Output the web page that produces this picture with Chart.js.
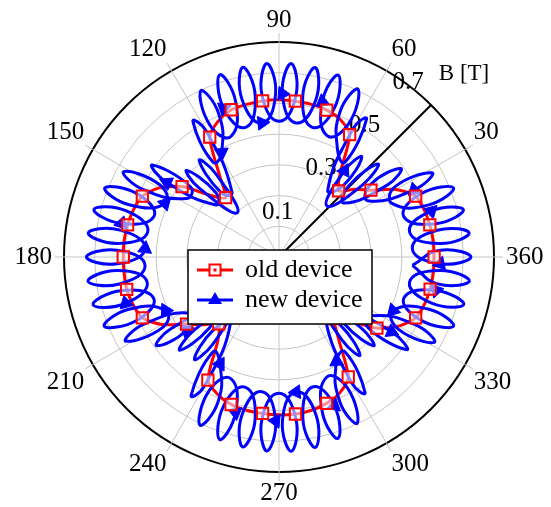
<!DOCTYPE html>
<html>
<head>
<meta charset="utf-8">
<script src="https://cdn.jsdelivr.net/npm/chart.js@4.4.1/dist/chart.umd.min.js"></script>
<style>
  html, body { margin: 0; padding: 0; background: #fff; }
  #wrap { width: 551px; height: 507px; }
</style>
</head>
<body>
<div id="wrap"><canvas id="chart" width="551" height="507"></canvas></div>
<script>
// Angle labels, listed clockwise starting from the top of the dial
const angleLabels = ['90', '60', '30', '360', '330', '300', '270', '240', '210', '180', '150', '120'];
// Radial axis (B in tesla)
const radialTicks = [0.1, 0.3, 0.5, 0.7];
const radialMax = 0.7;
const radialAxisAngle = 45;   // direction of the B axis, degrees
const radialAxisTitle = 'B [T]';

// old device: field magnitude vs angle (degrees)
const oldAngles = [0, 6, 12, 18, 24, 30, 36, 42, 48, 54,
  60, 66, 72, 78, 84, 90, 96, 102, 108, 114,
  120, 126, 132, 138, 144, 150, 156, 162, 168, 174,
  180, 186, 192, 198, 204, 210, 216, 222, 228, 234,
  240, 246, 252, 258, 264, 270, 276, 282, 288, 294,
  300, 306, 312, 318, 324, 330, 336, 342, 348, 354, 360];
const oldB = [0.505, 0.505, 0.502, 0.497, 0.487, 0.44, 0.37, 0.33, 0.29, 0.34,
  0.46, 0.49, 0.503, 0.508, 0.51, 0.512, 0.511, 0.508, 0.504, 0.485,
  0.451, 0.33, 0.26, 0.30, 0.39, 0.45, 0.487, 0.498, 0.504, 0.507,
  0.507, 0.507, 0.507, 0.50, 0.487, 0.44, 0.372, 0.33, 0.293, 0.34,
  0.463, 0.49, 0.505, 0.51, 0.512, 0.514, 0.514, 0.51, 0.501, 0.485,
  0.451, 0.33, 0.27, 0.31, 0.394, 0.45, 0.487, 0.498, 0.503, 0.505, 0.505];

// new device: the rippled field, one group per ripple
// (inner turn, rising flank, outer turn, falling flank)
const newAngles = [
  -3.6, 2.4, 0, -2.4,       3.6, 9.6, 7.2, 4.8,        10.8, 16.8, 14.4, 12,
  18, 24, 21.6, 19.2,       25.2, 31.2, 28.8, 26.4,    32.4, 38.4, 36, 33.6,
  39.6, 45.6, 43.2, 40.8,   46.8, 52.8, 50.4, 48,      54, 60, 57.6, 55.2,
  61.2, 67.2, 64.8, 62.4,   68.4, 74.4, 72, 69.6,      75.6, 81.6, 79.2, 76.8,
  82.8, 88.8, 86.4, 84,     90, 96, 93.6, 91.2,        97.2, 103.2, 100.8, 98.4,
  104.4, 110.4, 108, 105.6, 111.6, 117.6, 115.2, 112.8, 118.8, 124.8, 122.4, 120,
  126, 132, 129.6, 127.2,   133.2, 139.2, 136.8, 134.4, 140.4, 146.4, 144, 141.6,
  147.6, 153.6, 151.2, 148.8, 154.8, 160.8, 158.4, 156, 162, 168, 165.6, 163.2,
  169.2, 175.2, 172.8, 170.4, 176.4, 182.4, 180, 177.6, 183.6, 189.6, 187.2, 184.8,
  190.8, 196.8, 194.4, 192, 198, 204, 201.6, 199.2,    205.2, 211.2, 208.8, 206.4,
  212.4, 218.4, 216, 213.6, 219.6, 225.6, 223.2, 220.8, 226.8, 232.8, 230.4, 228,
  234, 240, 237.6, 235.2,   241.2, 247.2, 244.8, 242.4, 248.4, 254.4, 252, 249.6,
  255.6, 261.6, 259.2, 256.8, 262.8, 268.8, 266.4, 264, 270, 276, 273.6, 271.2,
  277.2, 283.2, 280.8, 278.4, 284.4, 290.4, 288, 285.6, 291.6, 297.6, 295.2, 292.8,
  298.8, 304.8, 302.4, 300, 306, 312, 309.6, 307.2,    313.2, 319.2, 316.8, 314.4,
  320.4, 326.4, 324, 321.6, 327.6, 333.6, 331.2, 328.8, 334.8, 340.8, 338.4, 336,
  342, 348, 345.6, 343.2,   349.2, 355.2, 352.8, 350.4,
  356.4];
const newB = [
  0.435, 0.525, 0.625, 0.525,  0.435, 0.523, 0.624, 0.525,  0.433, 0.518, 0.62, 0.522,
  0.427, 0.504, 0.611, 0.516,  0.408, 0.441, 0.569, 0.491,  0.342, 0.382, 0.49, 0.423,
  0.276, 0.323, 0.442, 0.361,  0.228, 0.353, 0.423, 0.313,  0.27, 0.482, 0.532, 0.376,
  0.396, 0.513, 0.604, 0.49,   0.425, 0.525, 0.623, 0.518,  0.436, 0.529, 0.628, 0.527,
  0.44, 0.532, 0.631, 0.53,    0.442, 0.531, 0.631, 0.532,  0.44, 0.527, 0.629, 0.53,
  0.436, 0.517, 0.624, 0.526,  0.423, 0.482, 0.598, 0.51,   0.388, 0.376, 0.523, 0.473,
  0.26, 0.283, 0.408, 0.341,   0.198, 0.344, 0.412, 0.293,  0.266, 0.438, 0.51, 0.368,
  0.356, 0.495, 0.577, 0.454,  0.41, 0.517, 0.61, 0.505,    0.428, 0.524, 0.622, 0.519,
  0.435, 0.527, 0.626, 0.525,  0.437, 0.527, 0.627, 0.527,  0.437, 0.527, 0.627, 0.527,
  0.437, 0.521, 0.625, 0.527,  0.43, 0.504, 0.612, 0.518,   0.408, 0.441, 0.569, 0.491,
  0.342, 0.384, 0.492, 0.424,  0.276, 0.325, 0.443, 0.361,  0.23, 0.354, 0.432, 0.316,
  0.27, 0.485, 0.534, 0.376,   0.398, 0.514, 0.605, 0.492,  0.426, 0.526, 0.625, 0.518,
  0.438, 0.531, 0.63, 0.529,   0.442, 0.534, 0.633, 0.532,  0.444, 0.534, 0.634, 0.534,
  0.443, 0.528, 0.631, 0.533,  0.437, 0.517, 0.621, 0.526,  0.421, 0.482, 0.598, 0.51,
  0.388, 0.376, 0.523, 0.473,  0.26, 0.293, 0.414, 0.342,   0.208, 0.353, 0.422, 0.303,
  0.272, 0.44, 0.514, 0.37,    0.357, 0.495, 0.577, 0.455,  0.41, 0.517, 0.611, 0.505,
  0.428, 0.523, 0.621, 0.519,  0.433, 0.525, 0.625, 0.524,
  0.435];
// samples of the new-device curve that carry a marker
const newMarked = [3, 9, 19, 29, 41, 49, 56, 61, 68, 81, 88, 93, 100, 109, 116,
  121, 136, 141, 149, 156, 161, 168, 181, 188, 193];

const RED = '#ff0000';
const BLUE = '#0000ff';
const GRID = '#c4c4c4';
const SERIF = '"Liberation Serif", "Times New Roman", serif';

const toXY = (angles, values) => angles.map((a, i) => {
  const t = a * Math.PI / 180;
  return { x: values[i] * Math.cos(t), y: values[i] * Math.sin(t) };
});
const oldPoints = toXY(oldAngles, oldB);
const newPoints = toXY(newAngles, newB);

// arrow-like orientation of a marker: direction of travel into the point
function travelRotation(ctx) {
  const pts = ctx.dataset.data;
  const i = ctx.dataIndex;
  const a = pts[Math.max(i - 1, 0)];
  const b = i > 0 ? pts[i] : pts[1];
  return Math.atan2(b.x - a.x, b.y - a.y) * 180 / Math.PI;
}

const polarFrame = {
  id: 'polarFrame',
  // the cartesian axes carrying the curves are pinned onto the polar dial
  afterLayout(chart) {
    const r = chart.scales.r, sx = chart.scales.x, sy = chart.scales.y;
    const k = radialMax / r.drawingArea;
    sx.min = (sx.left - r.xCenter) * k;
    sx.max = (sx.right - r.xCenter) * k;
    sx.configure();
    sy.min = (r.yCenter - sy.bottom) * k;
    sy.max = (r.yCenter - sy.top) * k;
    sy.configure();
  },
  beforeDatasetsDraw(chart) {
    const r = chart.scales.r, ctx = chart.ctx;
    const cx = r.xCenter, cy = r.yCenter;
    ctx.save();
    // short ticks outside the rim
    ctx.strokeStyle = GRID;
    ctx.lineWidth = 1;
    for (let i = 0; i < angleLabels.length; i++) {
      const a = r.getPointPosition(i, r.drawingArea);
      const b = r.getPointPosition(i, r.drawingArea + 9);
      ctx.beginPath();
      ctx.moveTo(a.x, a.y);
      ctx.lineTo(b.x, b.y);
      ctx.stroke();
    }
    // the B axis
    const dir = radialAxisAngle * Math.PI / 180;
    const ux = Math.cos(dir), uy = -Math.sin(dir);
    const len = r.getDistanceFromCenterForValue(radialMax);
    ctx.strokeStyle = '#000';
    ctx.lineWidth = 2;
    ctx.beginPath();
    ctx.moveTo(cx, cy);
    ctx.lineTo(cx + len * ux, cy + len * uy);
    ctx.stroke();
    // its tick labels, beside the axis
    ctx.fillStyle = '#000';
    ctx.textAlign = 'center';
    ctx.textBaseline = 'middle';
    ctx.font = '25px ' + SERIF;
    radialTicks.forEach(v => {
      const d = r.getDistanceFromCenterForValue(v);
      ctx.fillText(v.toFixed(1), cx + d * ux - 23, cy + d * uy - 23);
    });
    ctx.font = '23px ' + SERIF;
    ctx.fillText(radialAxisTitle, cx + len * ux + 33, cy + len * uy - 31);
    ctx.restore();
  },
  afterDraw(chart) {
    const r = chart.scales.r, ctx = chart.ctx;
    const left = r.xCenter - 91, top = r.yCenter - 7, w = 184, h = 74;
    ctx.save();
    ctx.fillStyle = '#fff';
    ctx.fillRect(left, top, w, h);
    ctx.strokeStyle = '#000';
    ctx.lineWidth = 1.5;
    ctx.strokeRect(left, top, w, h);
    const rows = [
      { label: 'old device', color: RED, marker: 'square' },
      { label: 'new device', color: BLUE, marker: 'triangle' }
    ];
    rows.forEach((row, i) => {
      const y = top + 20 + i * 30;
      const mx = left + 27;
      ctx.strokeStyle = row.color;
      ctx.lineWidth = 3;
      ctx.beginPath();
      ctx.moveTo(left + 9, y);
      ctx.lineTo(left + 45, y);
      ctx.stroke();
      if (row.marker === 'square') {
        ctx.fillStyle = '#fff';
        ctx.lineWidth = 2;
        ctx.fillRect(mx - 5.5, y - 5.5, 11, 11);
        ctx.strokeRect(mx - 5.5, y - 5.5, 11, 11);
        ctx.fillStyle = row.color;
        ctx.fillRect(mx - 1.5, y - 1.5, 3, 3);
      } else {
        ctx.fillStyle = row.color;
        ctx.beginPath();
        ctx.moveTo(mx, y - 8);
        ctx.lineTo(mx + 7, y + 4);
        ctx.lineTo(mx - 7, y + 4);
        ctx.closePath();
        ctx.fill();
      }
      ctx.fillStyle = '#000';
      ctx.font = '26px ' + SERIF;
      ctx.textAlign = 'left';
      ctx.textBaseline = 'middle';
      ctx.fillText(row.label, left + 57, y);
    });
    ctx.restore();
  }
};

new Chart(document.getElementById('chart'), {
  type: 'scatter',
  data: {
    labels: angleLabels,
    datasets: [
      {
        label: 'old device',
        data: oldPoints,
        showLine: false,
        pointStyle: 'rect',
        pointRadius: ctx => (ctx.dataIndex % 2 === 0 && ctx.dataIndex < oldPoints.length - 1) ? 8 : 0,
        pointBorderColor: RED,
        pointBackgroundColor: 'rgba(255,255,255,0.55)',
        pointBorderWidth: 2,
        clip: false
      },
      {
        label: 'new device',
        data: newPoints,
        showLine: true,
        borderColor: BLUE,
        borderWidth: 3,
        tension: 0.5,
        pointStyle: 'triangle',
        pointRadius: ctx => newMarked.includes(ctx.dataIndex) ? 8 : 0,
        pointRotation: travelRotation,
        pointBackgroundColor: BLUE,
        pointBorderColor: BLUE,
        pointBorderWidth: 1,
        clip: false
      },
      {
        label: 'old device line',
        data: oldPoints,
        showLine: true,
        borderColor: RED,
        borderWidth: 3,
        tension: 0.25,
        pointRadius: 0,
        clip: false
      }
    ]
  },
  options: {
    responsive: false,
    animation: false,
    devicePixelRatio: 1,
    events: [],
    layout: { autoPadding: false, padding: { left: 7, right: 0, top: 8, bottom: 1 } },
    plugins: { legend: { display: false }, tooltip: { enabled: false } },
    scales: {
      x: { type: 'linear', display: false, min: -1, max: 1 },
      y: { type: 'linear', display: false, min: -1, max: 1 },
      r: {
        type: 'radialLinear',
        min: 0,
        max: radialMax,
        startAngle: 0,
        ticks: { display: false, stepSize: 0.1 },
        grid: {
          circular: true,
          color: ctx => Math.abs(ctx.tick.value - radialMax) < 1e-6 ? '#000' : GRID,
          lineWidth: ctx => Math.abs(ctx.tick.value - radialMax) < 1e-6 ? 2 : 1
        },
        angleLines: { display: true, color: GRID, lineWidth: 1 },
        pointLabels: {
          display: true,
          color: '#000',
          font: { family: SERIF, size: 25, lineHeight: 1 },
          padding: ctx => (ctx.label === '90' || ctx.label === '270') ? 9 :
                          (ctx.label === '180' || ctx.label === '360') ? 12 : 10
        }
      }
    }
  },
  plugins: [polarFrame]
});
</script>
</body>
</html>
